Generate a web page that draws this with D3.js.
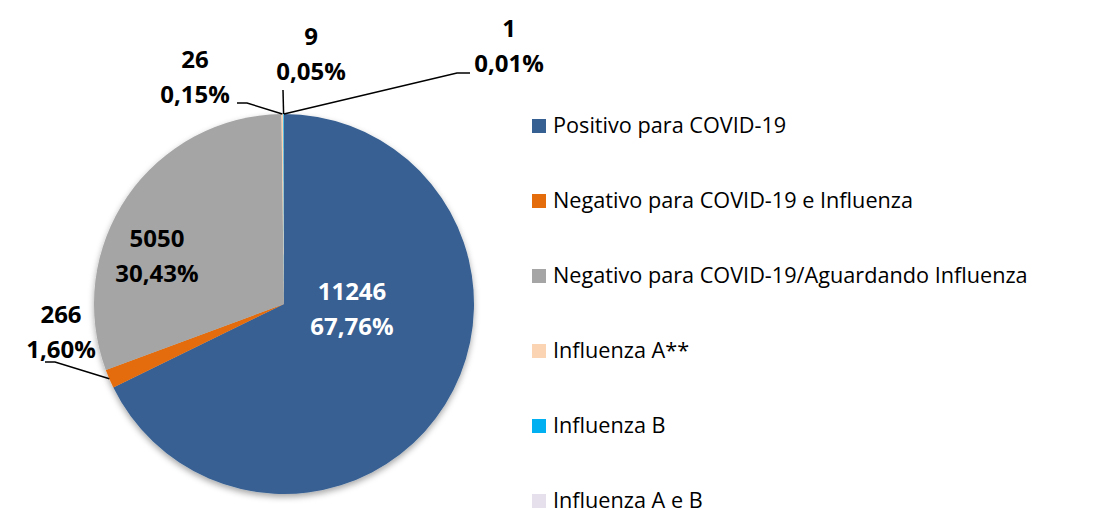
<!DOCTYPE html>
<html>
<head>
<meta charset="utf-8">
<script src="https://cdn.jsdelivr.net/npm/d3@7"></script>
<style>
  html, body { margin: 0; padding: 0; background: #fff; }
  svg { display: block; }
</style>
</head>
<body>
<svg id="pieChart"></svg>
<script>
const categories = [
    "Positivo para COVID-19",
    "Negativo para COVID-19 e Influenza",
    "Negativo para COVID-19/Aguardando Influenza",
    "Influenza A**",
    "Influenza B",
    "Influenza A e B"
];
const counts = [11246, 266, 5050, 26, 9, 1];
const percentLabels = ["67,76%", "1,60%", "30,43%", "0,15%", "0,05%", "0,01%"];
const colors = ["#376092", "#e46c0a", "#a5a5a5", "#fbd4b4", "#00b0f0", "#e6e0ec"];

// label placement (Excel-style dragged labels) and leader elbows
const labelPos = [[352, 300], [61, 323], [157, 247], [195, 68], [311, 45], [509, 37]];
const labelColor = ["#fff", "#000", "#000", "#000", "#000", "#000"];
const leaders = [null, [[45, 362], [55, 362]], null, [[237, 103], [247, 103]], [[283, 90]], [[470, 73], [457, 73]]];

const svg = d3.select("#pieChart")
    .attr("width", 1095)
    .attr("height", 509);

const cx = 284;
const cy = 304;
const radius = 190;

const defs = svg.append("defs");
const shadow = defs.append("filter")
    .attr("id", "shadow")
    .attr("x", "-20%").attr("y", "-20%")
    .attr("width", "140%").attr("height", "140%");
shadow.append("feDropShadow")
    .attr("dx", 0).attr("dy", 3)
    .attr("stdDeviation", 3)
    .attr("flood-color", "#000")
    .attr("flood-opacity", 0.35);

const pie = d3.pie().sort(null).value(d => d);
const arcs = pie(counts);
const arc = d3.arc().innerRadius(0).outerRadius(radius);

const g = svg.append("g").attr("transform", `translate(${cx},${cy})`);

g.append("g")
    .attr("filter", "url(#shadow)")
    .selectAll("path")
    .data(arcs)
    .join("path")
    .attr("d", arc)
    .attr("fill", (d, i) => colors[i]);

// leader lines
const line = d3.line();
arcs.forEach((d, i) => {
    if (!leaders[i]) return;
    const mid = (d.startAngle + d.endAngle) / 2;
    const edge = [cx + radius * Math.sin(mid), cy - radius * Math.cos(mid)];
    svg.append("path")
        .attr("d", line(leaders[i].concat([edge])))
        .attr("fill", "none")
        .attr("stroke", "#000")
        .attr("stroke-width", 1.5);
});

// data labels
arcs.forEach((d, i) => {
    const t = svg.append("text")
        .attr("x", labelPos[i][0])
        .attr("y", labelPos[i][1])
        .attr("text-anchor", "middle")
        .attr("font-family", "'Open Sans', sans-serif")
        .attr("font-weight", "bold")
        .attr("font-size", 24)
        .attr("fill", labelColor[i]);
    t.append("tspan").attr("x", labelPos[i][0]).text(counts[i]);
    t.append("tspan").attr("x", labelPos[i][0]).attr("dy", 35).text(percentLabels[i]);
});

// legend
const legendY = d3.scalePoint()
    .domain(categories)
    .range([126, 501]);

const legend = svg.append("g");
const items = legend.selectAll("g")
    .data(categories)
    .join("g")
    .attr("transform", d => `translate(532,${legendY(d)})`);

items.append("rect")
    .attr("x", 0).attr("y", -7)
    .attr("width", 14).attr("height", 14)
    .attr("fill", (d, i) => colors[i]);

const legendText = items.append("text")
    .attr("x", 21)
    .attr("y", 7)
    .attr("font-family", "'Open Sans', sans-serif")
    .attr("font-size", 20)
    .attr("fill", "#000")
    .text(d => d);

// fit the longest legend entry to the reference width
const longest = d3.max(legendText.nodes(), n => n.getComputedTextLength());
legendText.attr("font-size", 20 * 475 / longest);
</script>
</body>
</html>
